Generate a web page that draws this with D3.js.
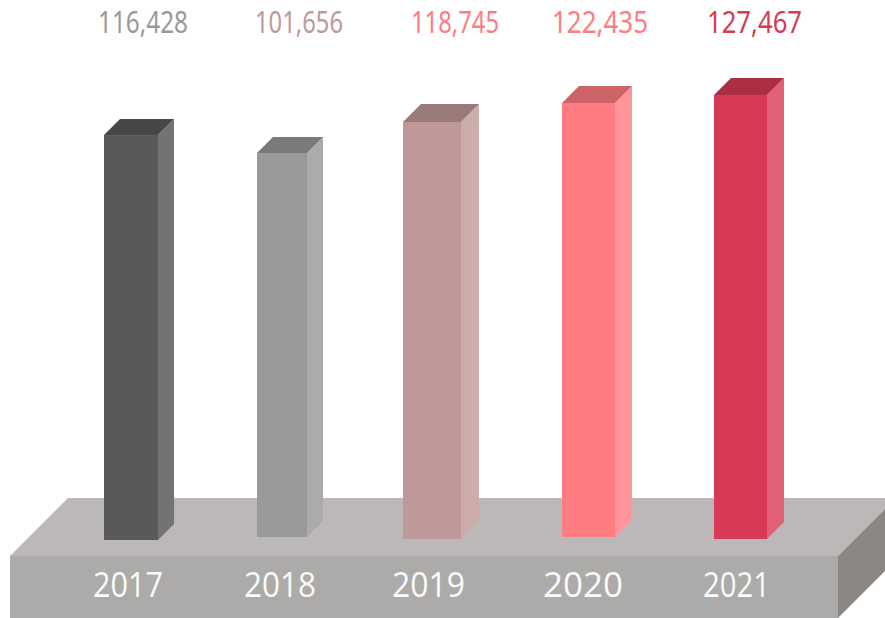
<!DOCTYPE html>
<html>
<head>
<meta charset="utf-8">
<script src="https://cdn.jsdelivr.net/npm/d3@7"></script>
<style>
  html, body { margin: 0; padding: 0; background: #fff; }
  svg { display: block; }
</style>
</head>
<body>
<div class="chart"></div>
<script>
const WIDTH = 885;
const HEIGHT = 618;

// chart data
var years = ['2017', '2018', '2019', '2020', '2021'];
var labelValues = [116428, 101656, 118745, 122435, 127467];
// bar heights as drawn in the picture, they do not follow the printed labels exactly
var barValues = [116000, 110850, 119730, 125180, 127467];

// layout per year
var barCenters = [131, 282, 432, 588.5, 740.5];
var barWidths = [54, 50, 58, 53, 53];
var barDepths = [16, 16, 18, 17, 17];
var barBottoms = [540, 537, 539, 537, 539];
var labelCenters = [143, 299, 455, 600, 754.5];
var labelWidths = [90, 88, 88, 96, 95];
var yearCenters = [128, 280, 428.5, 583, 736.5];
var yearWidths = [70, 72, 73, 80, 67];

// colours per year
var frontColors = ['#595959', '#999999', '#bf9999', '#ff7c80', '#d63a56'];
var sideColors = ['#737373', '#ababab', '#ccadab', '#ff9599', '#e06078'];
var topColors = ['#474747', '#7a7a7a', '#997a78', '#cc6366', '#ab2e45'];
var labelColors = ['#999999', '#bf9999', '#ff7c80', '#ff7c80', '#d63a56'];

function lookup(arr) {
    return d3.scaleOrdinal().domain(years).range(arr);
}

var xCenter = lookup(barCenters);
var barWidth = lookup(barWidths);
var barDepth = lookup(barDepths);
var barBottom = lookup(barBottoms);
var front = lookup(frontColors);
var side = lookup(sideColors);
var topFace = lookup(topColors);

var valueOf = d3.scaleOrdinal().domain(years).range(barValues);
var labelOf = d3.scaleOrdinal().domain(years).range(labelValues);

var yScale = d3.scaleLinear().domain([0, 127467]).range([540, 95]);

var svg = d3.select('.chart').append('svg')
    .attr('width', WIDTH)
    .attr('height', HEIGHT);

function poly(points) {
    return d3.line()(points) + 'Z';
}

function drawPlatform() {
    var g = svg.append('g');
    g.append('path')
        .attr('d', poly([[68, 498], [896, 498], [838, 556], [10, 556]]))
        .attr('fill', '#bcb8b7');
    g.append('path')
        .attr('d', poly([[838, 556], [896, 498], [896, 560], [838, 618]]))
        .attr('fill', '#8b8785');
    g.append('rect')
        .attr('x', 10).attr('y', 556)
        .attr('width', 828).attr('height', 62)
        .attr('fill', '#acaba9');
}

function drawBars() {
    var bars = svg.append('g').selectAll('g').data(years).join('g');

    // right side
    bars.append('path')
        .attr('fill', side)
        .attr('d', function (d) {
            var r = xCenter(d) + barWidth(d) / 2;
            var t = yScale(valueOf(d));
            var k = barDepth(d);
            return poly([[r, t], [r + k, t - k], [r + k, barBottom(d) - k], [r, barBottom(d)]]);
        });

    // top
    bars.append('path')
        .attr('fill', topFace)
        .attr('d', function (d) {
            var l = xCenter(d) - barWidth(d) / 2;
            var r = xCenter(d) + barWidth(d) / 2;
            var t = yScale(valueOf(d));
            var k = barDepth(d);
            return poly([[l, t], [l + k, t - k], [r + k, t - k], [r, t]]);
        });

    // front
    bars.append('rect')
        .attr('fill', front)
        .attr('x', function (d) { return xCenter(d) - barWidth(d) / 2; })
        .attr('y', function (d) { return yScale(valueOf(d)); })
        .attr('width', barWidth)
        .attr('height', function (d) { return barBottom(d) - yScale(valueOf(d)); });
}

function drawLabels() {
    svg.append('g').selectAll('text').data(years).join('text')
        .attr('x', lookup(labelCenters))
        .attr('y', 33)
        .attr('text-anchor', 'middle')
        .attr('font-family', 'Noto Sans')
        .attr('font-size', 30)
        .attr('fill', lookup(labelColors))
        .attr('textLength', lookup(labelWidths))
        .attr('lengthAdjust', 'spacingAndGlyphs')
        .text(function (d) { return d3.format(',')(labelOf(d)); });

    svg.append('g').selectAll('text').data(years).join('text')
        .attr('x', lookup(yearCenters))
        .attr('y', 597)
        .attr('text-anchor', 'middle')
        .attr('font-family', 'Open Sans')
        .attr('font-size', 35)
        .attr('fill', '#fafafa')
        .attr('textLength', lookup(yearWidths))
        .attr('lengthAdjust', 'spacingAndGlyphs')
        .text(function (d) { return d; });
}

drawPlatform();
drawBars();
drawLabels();
</script>
</body>
</html>
